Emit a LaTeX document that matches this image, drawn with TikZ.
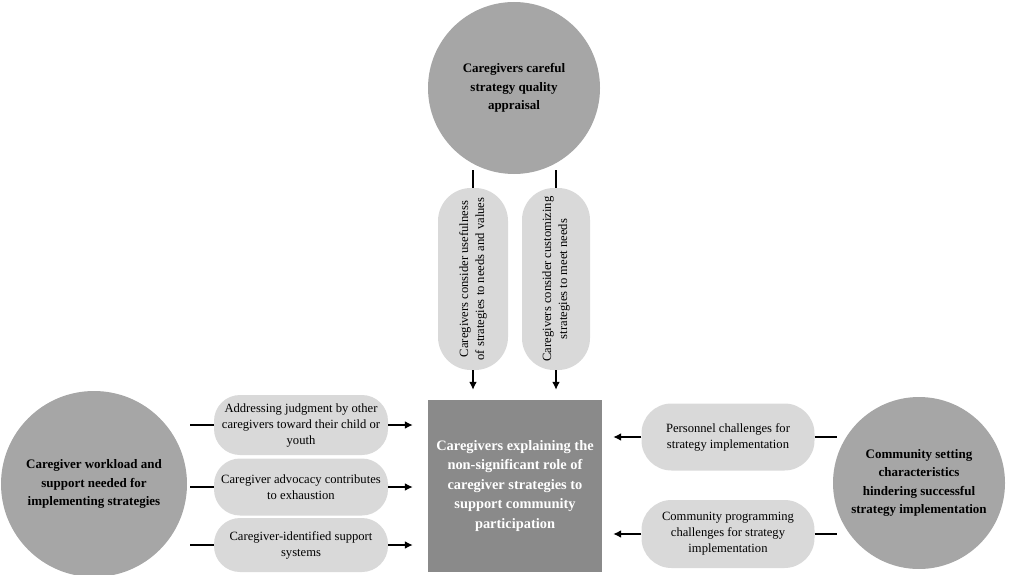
\documentclass[tikz,border=0pt]{standalone}
\usepackage{fontspec}
\setmainfont{Liberation Serif}
\usetikzlibrary{arrows.meta}
\definecolor{circ}{HTML}{A6A6A6}
\definecolor{pillc}{HTML}{D9D9D9}
\definecolor{boxc}{HTML}{8A8A8A}
\begin{document}
\begin{tikzpicture}[x=1pt,y=-1pt,
  bigcirc/.style={circle,fill=circ,inner sep=0pt,align=center,font=\fontsize{13}{18.5}\selectfont\bfseries},
  pillbox/.style={fill=pillc,rounded corners=26pt,align=center,inner sep=0pt,font=\fontsize{12.6}{16}\selectfont},
  mainbox/.style={fill=boxc,inner sep=0pt,align=center,text=white,font=\fontsize{14.4}{19.5}\selectfont\bfseries},
  conn/.style={line width=1.9pt},
  arr/.style={conn,-{Latex[length=8pt,width=8pt]}}]
\useasboundingbox (0,0) rectangle (1009,575);
% main nodes
\node[bigcirc,minimum size=172pt] (top) at (514,88) {Caregivers careful\\strategy quality\\appraisal};
\node[bigcirc,minimum size=186pt] (left) at (94,484) {Caregiver workload and\\support needed for\\implementing strategies};
\node[bigcirc,minimum size=172pt] (right) at (919,483) {Community setting\\characteristics\\hindering successful\\strategy implementation};
\node[mainbox,minimum width=174pt,minimum height=172pt] (box) at (515,486) {Caregivers explaining the\\non-significant role of\\caregiver strategies to\\support community\\participation};
% top pills
\node[pillbox,rotate=90,minimum width=182pt,minimum height=70pt,rounded corners=33pt] (t1) at (473,279) {Caregivers consider usefulness\\of strategies to needs and values};
\node[pillbox,rotate=90,minimum width=182pt,minimum height=68pt,rounded corners=32pt] (t2) at (556,279) {Caregivers consider customizing\\strategies to meet needs};
% left pills
\node[pillbox,minimum width=174pt,minimum height=60pt] (l1) at (301,425) {Addressing judgment by other\\caregivers toward their child or\\youth};
\node[pillbox,minimum width=174pt,minimum height=57pt] (l2) at (301,487) {Caregiver advocacy contributes\\to exhaustion};
\node[pillbox,minimum width=174pt,minimum height=54pt] (l3) at (301,545) {Caregiver-identified support\\systems};
% right pills
\node[pillbox,minimum width=173pt,minimum height=67pt,rounded corners=30pt] (r1) at (728,437) {Personnel challenges for\\strategy implementation};
\node[pillbox,minimum width=173pt,minimum height=68pt,rounded corners=30pt] (r2) at (728,534) {Community programming\\challenges for strategy\\implementation};
% connectors
\foreach \p in {t1,t2}{
  \draw[conn] (\p.east) -- ++(0,-18);
  \draw[arr,shorten >=10pt] (\p.west) -- (\p.west |- box.north);
}
\foreach \p in {l1,l2,l3}{
  \draw[conn] (\p.west) -- ++(-24,0);
  \draw[arr,shorten >=15pt] (\p.east) -- (\p.east -| box.west);
}
\foreach \p in {r1,r2}{
  \draw[conn] (\p.east) -- ++(22,0);
  \draw[arr,shorten >=11pt] (\p.west) -- (\p.west -| box.east);
}
\end{tikzpicture}
\end{document}
